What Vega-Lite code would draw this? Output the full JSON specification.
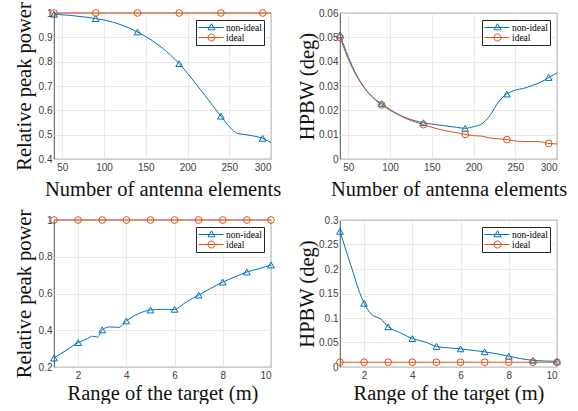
{
"$schema": "https://vega.github.io/schema/vega-lite/v6.json",
"autosize": {"type": "pad"},
"padding": {"left": 14, "top": 1, "right": 0, "bottom": 0},
"background": "white",
"datasets": {
"d": [
{"p":"a","s":"non-ideal","x":40,"y":0.995,"m":1},
{"p":"a","s":"non-ideal","x":60,"y":0.99,"m":0},
{"p":"a","s":"non-ideal","x":80,"y":0.982,"m":0},
{"p":"a","s":"non-ideal","x":90,"y":0.977,"m":1},
{"p":"a","s":"non-ideal","x":100,"y":0.971,"m":0},
{"p":"a","s":"non-ideal","x":120,"y":0.952,"m":0},
{"p":"a","s":"non-ideal","x":140,"y":0.922,"m":1},
{"p":"a","s":"non-ideal","x":160,"y":0.881,"m":0},
{"p":"a","s":"non-ideal","x":180,"y":0.826,"m":0},
{"p":"a","s":"non-ideal","x":190,"y":0.792,"m":1},
{"p":"a","s":"non-ideal","x":200,"y":0.752,"m":0},
{"p":"a","s":"non-ideal","x":220,"y":0.665,"m":0},
{"p":"a","s":"non-ideal","x":240,"y":0.576,"m":1},
{"p":"a","s":"non-ideal","x":250,"y":0.533,"m":0},
{"p":"a","s":"non-ideal","x":260,"y":0.505,"m":0},
{"p":"a","s":"non-ideal","x":270,"y":0.5,"m":0},
{"p":"a","s":"non-ideal","x":280,"y":0.494,"m":0},
{"p":"a","s":"non-ideal","x":290,"y":0.485,"m":1},
{"p":"a","s":"non-ideal","x":300,"y":0.467,"m":0},
{"p":"a","s":"ideal","x":40,"y":1,"m":1},
{"p":"a","s":"ideal","x":90,"y":1,"m":1},
{"p":"a","s":"ideal","x":140,"y":1,"m":1},
{"p":"a","s":"ideal","x":190,"y":1,"m":1},
{"p":"a","s":"ideal","x":240,"y":1,"m":1},
{"p":"a","s":"ideal","x":290,"y":1,"m":1},
{"p":"a","s":"ideal","x":300,"y":1,"m":0},
{"p":"b","s":"non-ideal","x":40,"y":0.051,"m":1},
{"p":"b","s":"non-ideal","x":50,"y":0.042,"m":0},
{"p":"b","s":"non-ideal","x":60,"y":0.0344,"m":0},
{"p":"b","s":"non-ideal","x":70,"y":0.029,"m":0},
{"p":"b","s":"non-ideal","x":80,"y":0.0251,"m":0},
{"p":"b","s":"non-ideal","x":90,"y":0.0228,"m":1},
{"p":"b","s":"non-ideal","x":100,"y":0.0203,"m":0},
{"p":"b","s":"non-ideal","x":120,"y":0.0168,"m":0},
{"p":"b","s":"non-ideal","x":140,"y":0.0149,"m":1},
{"p":"b","s":"non-ideal","x":160,"y":0.0139,"m":0},
{"p":"b","s":"non-ideal","x":180,"y":0.013,"m":0},
{"p":"b","s":"non-ideal","x":190,"y":0.0126,"m":1},
{"p":"b","s":"non-ideal","x":200,"y":0.0133,"m":0},
{"p":"b","s":"non-ideal","x":210,"y":0.0145,"m":0},
{"p":"b","s":"non-ideal","x":220,"y":0.018,"m":0},
{"p":"b","s":"non-ideal","x":230,"y":0.0235,"m":0},
{"p":"b","s":"non-ideal","x":240,"y":0.0267,"m":1},
{"p":"b","s":"non-ideal","x":250,"y":0.0283,"m":0},
{"p":"b","s":"non-ideal","x":260,"y":0.029,"m":0},
{"p":"b","s":"non-ideal","x":270,"y":0.0302,"m":0},
{"p":"b","s":"non-ideal","x":280,"y":0.0315,"m":0},
{"p":"b","s":"non-ideal","x":290,"y":0.0335,"m":1},
{"p":"b","s":"non-ideal","x":300,"y":0.0354,"m":0},
{"p":"b","s":"ideal","x":40,"y":0.05,"m":1},
{"p":"b","s":"ideal","x":50,"y":0.041,"m":0},
{"p":"b","s":"ideal","x":60,"y":0.034,"m":0},
{"p":"b","s":"ideal","x":70,"y":0.0288,"m":0},
{"p":"b","s":"ideal","x":80,"y":0.025,"m":0},
{"p":"b","s":"ideal","x":90,"y":0.0222,"m":1},
{"p":"b","s":"ideal","x":100,"y":0.02,"m":0},
{"p":"b","s":"ideal","x":120,"y":0.0165,"m":0},
{"p":"b","s":"ideal","x":140,"y":0.0141,"m":1},
{"p":"b","s":"ideal","x":160,"y":0.0121,"m":0},
{"p":"b","s":"ideal","x":180,"y":0.0108,"m":0},
{"p":"b","s":"ideal","x":190,"y":0.0101,"m":1},
{"p":"b","s":"ideal","x":200,"y":0.0096,"m":0},
{"p":"b","s":"ideal","x":210,"y":0.0094,"m":0},
{"p":"b","s":"ideal","x":220,"y":0.0086,"m":0},
{"p":"b","s":"ideal","x":230,"y":0.0083,"m":0},
{"p":"b","s":"ideal","x":240,"y":0.008,"m":1},
{"p":"b","s":"ideal","x":250,"y":0.0074,"m":0},
{"p":"b","s":"ideal","x":260,"y":0.0072,"m":0},
{"p":"b","s":"ideal","x":280,"y":0.0071,"m":0},
{"p":"b","s":"ideal","x":290,"y":0.0064,"m":1},
{"p":"b","s":"ideal","x":300,"y":0.0062,"m":0},
{"p":"c","s":"non-ideal","x":1,"y":0.249,"m":1},
{"p":"c","s":"non-ideal","x":1.5,"y":0.29,"m":0},
{"p":"c","s":"non-ideal","x":2,"y":0.333,"m":1},
{"p":"c","s":"non-ideal","x":2.4,"y":0.355,"m":0},
{"p":"c","s":"non-ideal","x":2.6,"y":0.368,"m":0},
{"p":"c","s":"non-ideal","x":2.8,"y":0.362,"m":0},
{"p":"c","s":"non-ideal","x":3,"y":0.402,"m":1},
{"p":"c","s":"non-ideal","x":3.3,"y":0.418,"m":0},
{"p":"c","s":"non-ideal","x":3.7,"y":0.416,"m":0},
{"p":"c","s":"non-ideal","x":4,"y":0.451,"m":1},
{"p":"c","s":"non-ideal","x":4.5,"y":0.49,"m":0},
{"p":"c","s":"non-ideal","x":5,"y":0.51,"m":1},
{"p":"c","s":"non-ideal","x":5.5,"y":0.514,"m":0},
{"p":"c","s":"non-ideal","x":5.8,"y":0.513,"m":0},
{"p":"c","s":"non-ideal","x":6,"y":0.514,"m":1},
{"p":"c","s":"non-ideal","x":6.5,"y":0.555,"m":0},
{"p":"c","s":"non-ideal","x":7,"y":0.591,"m":1},
{"p":"c","s":"non-ideal","x":7.5,"y":0.628,"m":0},
{"p":"c","s":"non-ideal","x":8,"y":0.662,"m":1},
{"p":"c","s":"non-ideal","x":8.5,"y":0.69,"m":0},
{"p":"c","s":"non-ideal","x":9,"y":0.717,"m":1},
{"p":"c","s":"non-ideal","x":9.5,"y":0.735,"m":0},
{"p":"c","s":"non-ideal","x":10,"y":0.755,"m":1},
{"p":"c","s":"ideal","x":1,"y":1,"m":1},
{"p":"c","s":"ideal","x":2,"y":1,"m":1},
{"p":"c","s":"ideal","x":3,"y":1,"m":1},
{"p":"c","s":"ideal","x":4,"y":1,"m":1},
{"p":"c","s":"ideal","x":5,"y":1,"m":1},
{"p":"c","s":"ideal","x":6,"y":1,"m":1},
{"p":"c","s":"ideal","x":7,"y":1,"m":1},
{"p":"c","s":"ideal","x":8,"y":1,"m":1},
{"p":"c","s":"ideal","x":9,"y":1,"m":1},
{"p":"c","s":"ideal","x":10,"y":1,"m":1},
{"p":"d","s":"non-ideal","x":1,"y":0.277,"m":1},
{"p":"d","s":"non-ideal","x":1.25,"y":0.238,"m":0},
{"p":"d","s":"non-ideal","x":1.5,"y":0.2,"m":0},
{"p":"d","s":"non-ideal","x":1.75,"y":0.161,"m":0},
{"p":"d","s":"non-ideal","x":2,"y":0.13,"m":1},
{"p":"d","s":"non-ideal","x":2.3,"y":0.108,"m":0},
{"p":"d","s":"non-ideal","x":2.7,"y":0.0975,"m":0},
{"p":"d","s":"non-ideal","x":3,"y":0.082,"m":1},
{"p":"d","s":"non-ideal","x":3.5,"y":0.07,"m":0},
{"p":"d","s":"non-ideal","x":4,"y":0.058,"m":1},
{"p":"d","s":"non-ideal","x":4.5,"y":0.0515,"m":0},
{"p":"d","s":"non-ideal","x":5,"y":0.042,"m":1},
{"p":"d","s":"non-ideal","x":5.5,"y":0.039,"m":0},
{"p":"d","s":"non-ideal","x":6,"y":0.037,"m":1},
{"p":"d","s":"non-ideal","x":6.5,"y":0.034,"m":0},
{"p":"d","s":"non-ideal","x":7,"y":0.031,"m":1},
{"p":"d","s":"non-ideal","x":7.5,"y":0.027,"m":0},
{"p":"d","s":"non-ideal","x":8,"y":0.022,"m":1},
{"p":"d","s":"non-ideal","x":8.5,"y":0.017,"m":0},
{"p":"d","s":"non-ideal","x":9,"y":0.0137,"m":1},
{"p":"d","s":"non-ideal","x":9.5,"y":0.0122,"m":0},
{"p":"d","s":"non-ideal","x":10,"y":0.0117,"m":1},
{"p":"d","s":"ideal","x":1,"y":0.0097,"m":1},
{"p":"d","s":"ideal","x":2,"y":0.0097,"m":1},
{"p":"d","s":"ideal","x":3,"y":0.0097,"m":1},
{"p":"d","s":"ideal","x":4,"y":0.0097,"m":1},
{"p":"d","s":"ideal","x":5,"y":0.0097,"m":1},
{"p":"d","s":"ideal","x":6,"y":0.0097,"m":1},
{"p":"d","s":"ideal","x":7,"y":0.0097,"m":1},
{"p":"d","s":"ideal","x":8,"y":0.0097,"m":1},
{"p":"d","s":"ideal","x":9,"y":0.0097,"m":1},
{"p":"d","s":"ideal","x":10,"y":0.0097,"m":1}
]
},
"data": {"name": "d"},
"columns": 2,
"spacing": {"row": 61, "column": 69},
"bounds": "flush",
"resolve": {"scale": {"color": "independent", "shape": "independent"}, "legend": {"color": "independent", "shape": "independent"}},
"concat": [
{
"width": 217, "height": 146,
"transform": [{"filter": "datum.p == 'a'"}],
"encoding": {
"x": {"field": "x", "type": "quantitative", "scale": {"domain": [40, 300], "nice": false, "zero": false}, "axis": {"values": [50, 100, 150, 200, 250, 300], "title": "Number of antenna elements", "titleX": 108.5, "titleY": 36}},
"y": {"field": "y", "type": "quantitative", "scale": {"domain": [0.4, 1], "nice": false, "zero": false}, "axis": {"values": [0.4, 0.5, 0.6, 0.7, 0.8, 0.9, 1], "format": "~g", "title": "Relative peak power", "titleX": -23.5, "titleY": 73}}
},
"layer": [
{"mark": {"type": "line", "strokeWidth": 1, "interpolate": "monotone"}, "encoding": {"color": {"field": "s", "type": "nominal", "scale": {"domain": ["non-ideal", "ideal"], "range": ["#0072BD", "#D95319"]}, "legend": {"title": null}}}},
{"transform": [{"filter": "datum.m == 1 && datum.s == 'non-ideal'"}], "mark": {"type": "point", "filled": false, "size": 45, "strokeWidth": 1, "opacity": 1, "shape": "triangle-up", "color": "#0072BD"}},
{"transform": [{"filter": "datum.m == 1 && datum.s == 'ideal'"}], "mark": {"type": "point", "filled": false, "size": 45, "strokeWidth": 1, "opacity": 1, "shape": "circle", "color": "#D95319"}},
{"transform": [{"filter": "datum.m == 99"}], "mark": {"type": "point", "filled": false, "size": 100, "strokeWidth": 1, "opacity": 1}, "encoding": {"color": {"field": "s", "type": "nominal", "scale": {"domain": ["non-ideal", "ideal"], "range": ["#0072BD", "#D95319"]}, "legend": {"title": null}}, "shape": {"field": "s", "type": "nominal", "scale": {"domain": ["non-ideal", "ideal"], "range": ["M-1,0L4,0M1.6,-0.75L2.3,0.45L0.9,0.45Z", "M-1,0L4,0M2.3,0A0.7,0.7,0,1,1,0.9,0A0.7,0.7,0,1,1,2.3,0Z"]}, "legend": {"title": null}}}}
]
},
{
"width": 217, "height": 146,
"transform": [{"filter": "datum.p == 'b'"}],
"encoding": {
"x": {"field": "x", "type": "quantitative", "scale": {"domain": [40, 300], "nice": false, "zero": false}, "axis": {"values": [50, 100, 150, 200, 250, 300], "title": "Number of antenna elements", "titleX": 108.5, "titleY": 36}},
"y": {"field": "y", "type": "quantitative", "scale": {"domain": [0, 0.06], "nice": false, "zero": false}, "axis": {"values": [0, 0.01, 0.02, 0.03, 0.04, 0.05, 0.06], "format": "~g", "title": "HPBW (deg)", "titleX": -27, "titleY": 73}}
},
"layer": [
{"mark": {"type": "line", "strokeWidth": 1, "interpolate": "monotone"}, "encoding": {"color": {"field": "s", "type": "nominal", "scale": {"domain": ["non-ideal", "ideal"], "range": ["#0072BD", "#D95319"]}, "legend": {"title": null}}}},
{"transform": [{"filter": "datum.m == 1 && datum.s == 'non-ideal'"}], "mark": {"type": "point", "filled": false, "size": 45, "strokeWidth": 1, "opacity": 1, "shape": "triangle-up", "color": "#0072BD"}},
{"transform": [{"filter": "datum.m == 1 && datum.s == 'ideal'"}], "mark": {"type": "point", "filled": false, "size": 45, "strokeWidth": 1, "opacity": 1, "shape": "circle", "color": "#D95319"}},
{"transform": [{"filter": "datum.m == 99"}], "mark": {"type": "point", "filled": false, "size": 100, "strokeWidth": 1, "opacity": 1}, "encoding": {"color": {"field": "s", "type": "nominal", "scale": {"domain": ["non-ideal", "ideal"], "range": ["#0072BD", "#D95319"]}, "legend": {"title": null}}, "shape": {"field": "s", "type": "nominal", "scale": {"domain": ["non-ideal", "ideal"], "range": ["M-1,0L4,0M1.6,-0.75L2.3,0.45L0.9,0.45Z", "M-1,0L4,0M2.3,0A0.7,0.7,0,1,1,0.9,0A0.7,0.7,0,1,1,2.3,0Z"]}, "legend": {"title": null}}}}
]
},
{
"width": 217, "height": 147,
"transform": [{"filter": "datum.p == 'c'"}],
"encoding": {
"x": {"field": "x", "type": "quantitative", "scale": {"domain": [1, 10], "nice": false, "zero": false}, "axis": {"values": [2, 4, 6, 8, 10], "title": "Range of the target (m)", "titleX": 108.5, "titleY": 32}},
"y": {"field": "y", "type": "quantitative", "scale": {"domain": [0.2, 1], "nice": false, "zero": false}, "axis": {"values": [0.2, 0.4, 0.6, 0.8, 1], "format": "~g", "title": "Relative peak power", "titleX": -23.5, "titleY": 73.5}}
},
"layer": [
{"mark": {"type": "line", "strokeWidth": 1, "interpolate": "monotone"}, "encoding": {"color": {"field": "s", "type": "nominal", "scale": {"domain": ["non-ideal", "ideal"], "range": ["#0072BD", "#D95319"]}, "legend": {"title": null}}}},
{"transform": [{"filter": "datum.m == 1 && datum.s == 'non-ideal'"}], "mark": {"type": "point", "filled": false, "size": 45, "strokeWidth": 1, "opacity": 1, "shape": "triangle-up", "color": "#0072BD"}},
{"transform": [{"filter": "datum.m == 1 && datum.s == 'ideal'"}], "mark": {"type": "point", "filled": false, "size": 45, "strokeWidth": 1, "opacity": 1, "shape": "circle", "color": "#D95319"}},
{"transform": [{"filter": "datum.m == 99"}], "mark": {"type": "point", "filled": false, "size": 100, "strokeWidth": 1, "opacity": 1}, "encoding": {"color": {"field": "s", "type": "nominal", "scale": {"domain": ["non-ideal", "ideal"], "range": ["#0072BD", "#D95319"]}, "legend": {"title": null}}, "shape": {"field": "s", "type": "nominal", "scale": {"domain": ["non-ideal", "ideal"], "range": ["M-1,0L4,0M1.6,-0.75L2.3,0.45L0.9,0.45Z", "M-1,0L4,0M2.3,0A0.7,0.7,0,1,1,0.9,0A0.7,0.7,0,1,1,2.3,0Z"]}, "legend": {"title": null}}}}
]
},
{
"width": 217, "height": 147,
"transform": [{"filter": "datum.p == 'd'"}],
"encoding": {
"x": {"field": "x", "type": "quantitative", "scale": {"domain": [1, 10], "nice": false, "zero": false}, "axis": {"values": [2, 4, 6, 8, 10], "title": "Range of the target (m)", "titleX": 108.5, "titleY": 32}},
"y": {"field": "y", "type": "quantitative", "scale": {"domain": [0, 0.3], "nice": false, "zero": false}, "axis": {"values": [0, 0.05, 0.1, 0.15, 0.2, 0.25, 0.3], "format": "~g", "title": "HPBW (deg)", "titleX": -27, "titleY": 73.5}}
},
"layer": [
{"mark": {"type": "line", "strokeWidth": 1, "interpolate": "monotone"}, "encoding": {"color": {"field": "s", "type": "nominal", "scale": {"domain": ["non-ideal", "ideal"], "range": ["#0072BD", "#D95319"]}, "legend": {"title": null}}}},
{"transform": [{"filter": "datum.m == 1 && datum.s == 'non-ideal'"}], "mark": {"type": "point", "filled": false, "size": 45, "strokeWidth": 1, "opacity": 1, "shape": "triangle-up", "color": "#0072BD"}},
{"transform": [{"filter": "datum.m == 1 && datum.s == 'ideal'"}], "mark": {"type": "point", "filled": false, "size": 45, "strokeWidth": 1, "opacity": 1, "shape": "circle", "color": "#D95319"}},
{"transform": [{"filter": "datum.m == 99"}], "mark": {"type": "point", "filled": false, "size": 100, "strokeWidth": 1, "opacity": 1}, "encoding": {"color": {"field": "s", "type": "nominal", "scale": {"domain": ["non-ideal", "ideal"], "range": ["#0072BD", "#D95319"]}, "legend": {"title": null}}, "shape": {"field": "s", "type": "nominal", "scale": {"domain": ["non-ideal", "ideal"], "range": ["M-1,0L4,0M1.6,-0.75L2.3,0.45L0.9,0.45Z", "M-1,0L4,0M2.3,0A0.7,0.7,0,1,1,0.9,0A0.7,0.7,0,1,1,2.3,0Z"]}, "legend": {"title": null}}}}
]
}
],
"config": {
"view": {"stroke": "#262626", "strokeWidth": 0.8},
"axis": {"domain": false, "ticks": false, "grid": true, "gridColor": "#e4e4e4", "gridWidth": 0.8, "labelFont": "Liberation Sans", "labelFontSize": 10, "labelColor": "#404040", "labelPadding": 3, "labelOverlap": false, "titleFont": "Liberation Serif", "titleFontSize": 20.5, "titleFontWeight": "normal", "titleColor": "#111111", "titleBaseline": "alphabetic", "titleAlign": "center"},
"axisY": {"labelPadding": 2, "titleAngle": -90},
"legend": {"orient": "top-right", "offset": 7, "padding": 2, "strokeColor": "#262626", "fillColor": "white", "labelFont": "Liberation Serif", "labelFontSize": 9.5, "labelColor": "#000000", "rowPadding": 0, "symbolSize": 100, "labelOffset": 17, "symbolStrokeWidth": 1}
}
}
